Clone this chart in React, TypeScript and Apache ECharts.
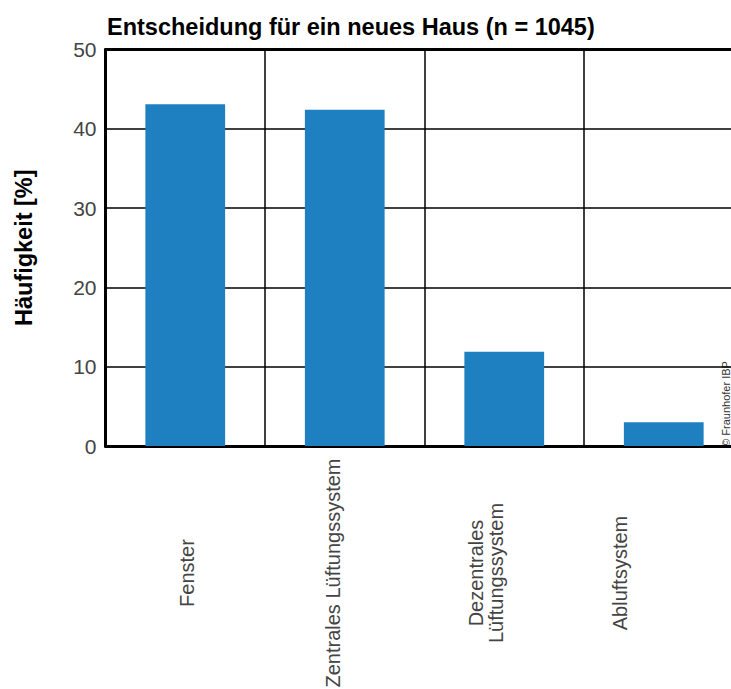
import React, { useEffect, useRef } from "react";
import * as echarts from "echarts";

const titleText = "Entscheidung für ein neues Haus (n = 1045)";
const yAxisName = "Häufigkeit [%]";
const categories = [
  "Fenster",
  "Zentrales Lüftungssystem",
  "Dezentrales\nLüftungssystem",
  "Abluftsystem",
];
const values = [43.1, 42.4, 11.9, 3.0];
const yTicks = { min: 0, max: 50, interval: 10 };
// horizontal nudges of the rotated category labels, as seen in the original
const labelShift = [2, -12, -18, -44];
const copyright = "© Fraunhofer IBP";

export default function App() {
  const ref = useRef<HTMLDivElement>(null);
  useEffect(() => {
    if (!ref.current) return;
    const chart = echarts.init(ref.current, null, { renderer: "svg" });
    const font = "Liberation Sans, Arial, sans-serif";
    const rich: Record<string, any> = {
      t: { fontFamily: font, fontSize: 20, color: "#444", lineHeight: 20 },
    };
    labelShift.forEach((s, i) => {
      rich["g" + i] = { fontSize: 1, lineHeight: Math.max(1, Math.abs(2 * s)) };
    });
    chart.setOption({
      animation: false,
      backgroundColor: "#ffffff",
      title: {
        text: titleText,
        left: 102,
        top: 10,
        textStyle: { fontFamily: font, fontSize: 23.5, fontWeight: "bold", color: "#000" },
      },
      grid: {
        left: 105.5,
        top: 49.5,
        width: 638,
        bottom: 243,
        containLabel: false,
        outerBoundsMode: "none",
      },
      xAxis: [
        {
          type: "category",
          data: categories,
          boundaryGap: true,
          axisLine: { show: true, lineStyle: { color: "#000", width: 3 } },
          axisTick: { show: false },
          splitLine: { show: true, lineStyle: { color: "#000", width: 1.5 } },
          axisLabel: {
            interval: 0,
            rotate: 90,
            align: "center",
            verticalAlign: "middle",
            margin: 127,
            formatter: (v: string, i: number) => {
              const body = v
                .split("\n")
                .map((line) => "{t|" + line + "}")
                .join("\n");
              const s = labelShift[i];
              const gap = "{g" + i + "| }";
              return s >= 0 ? gap + "\n" + body : body + "\n" + gap;
            },
            rich,
          },
        },
        {
          type: "category",
          position: "top",
          data: categories,
          axisLine: { show: true, lineStyle: { color: "#000", width: 3 } },
          axisTick: { show: false },
          axisLabel: { show: false },
          splitLine: { show: false },
        },
      ],
      yAxis: {
        type: "value",
        min: yTicks.min,
        max: yTicks.max,
        interval: yTicks.interval,
        name: yAxisName,
        nameLocation: "middle",
        nameGap: 70,
        nameTextStyle: { fontFamily: font, fontSize: 23.5, fontWeight: "bold", color: "#000" },
        axisLine: { show: true, lineStyle: { color: "#000", width: 3 } },
        axisTick: { show: false },
        splitLine: { show: true, lineStyle: { color: "#000", width: 1.5 } },
        axisLabel: { margin: 9, fontFamily: font, fontSize: 21, color: "#444" },
      },
      series: [
        {
          type: "bar",
          data: values,
          barWidth: "50%",
          itemStyle: { color: "#1f80c1" },
        },
      ],
      graphic: [
        {
          type: "text",
          x: 726,
          y: 404,
          rotation: Math.PI / 2,
          style: {
            text: copyright,
            fontFamily: font,
            fontSize: 11,
            fill: "#333",
            align: "center",
            verticalAlign: "middle",
          },
        },
      ],
    });
    return () => chart.dispose();
  }, []);
  return (
    <div
      ref={ref}
      style={{ position: "fixed", left: 0, top: 0, width: 731, height: 689, background: "#fff" }}
    />
  );
}
